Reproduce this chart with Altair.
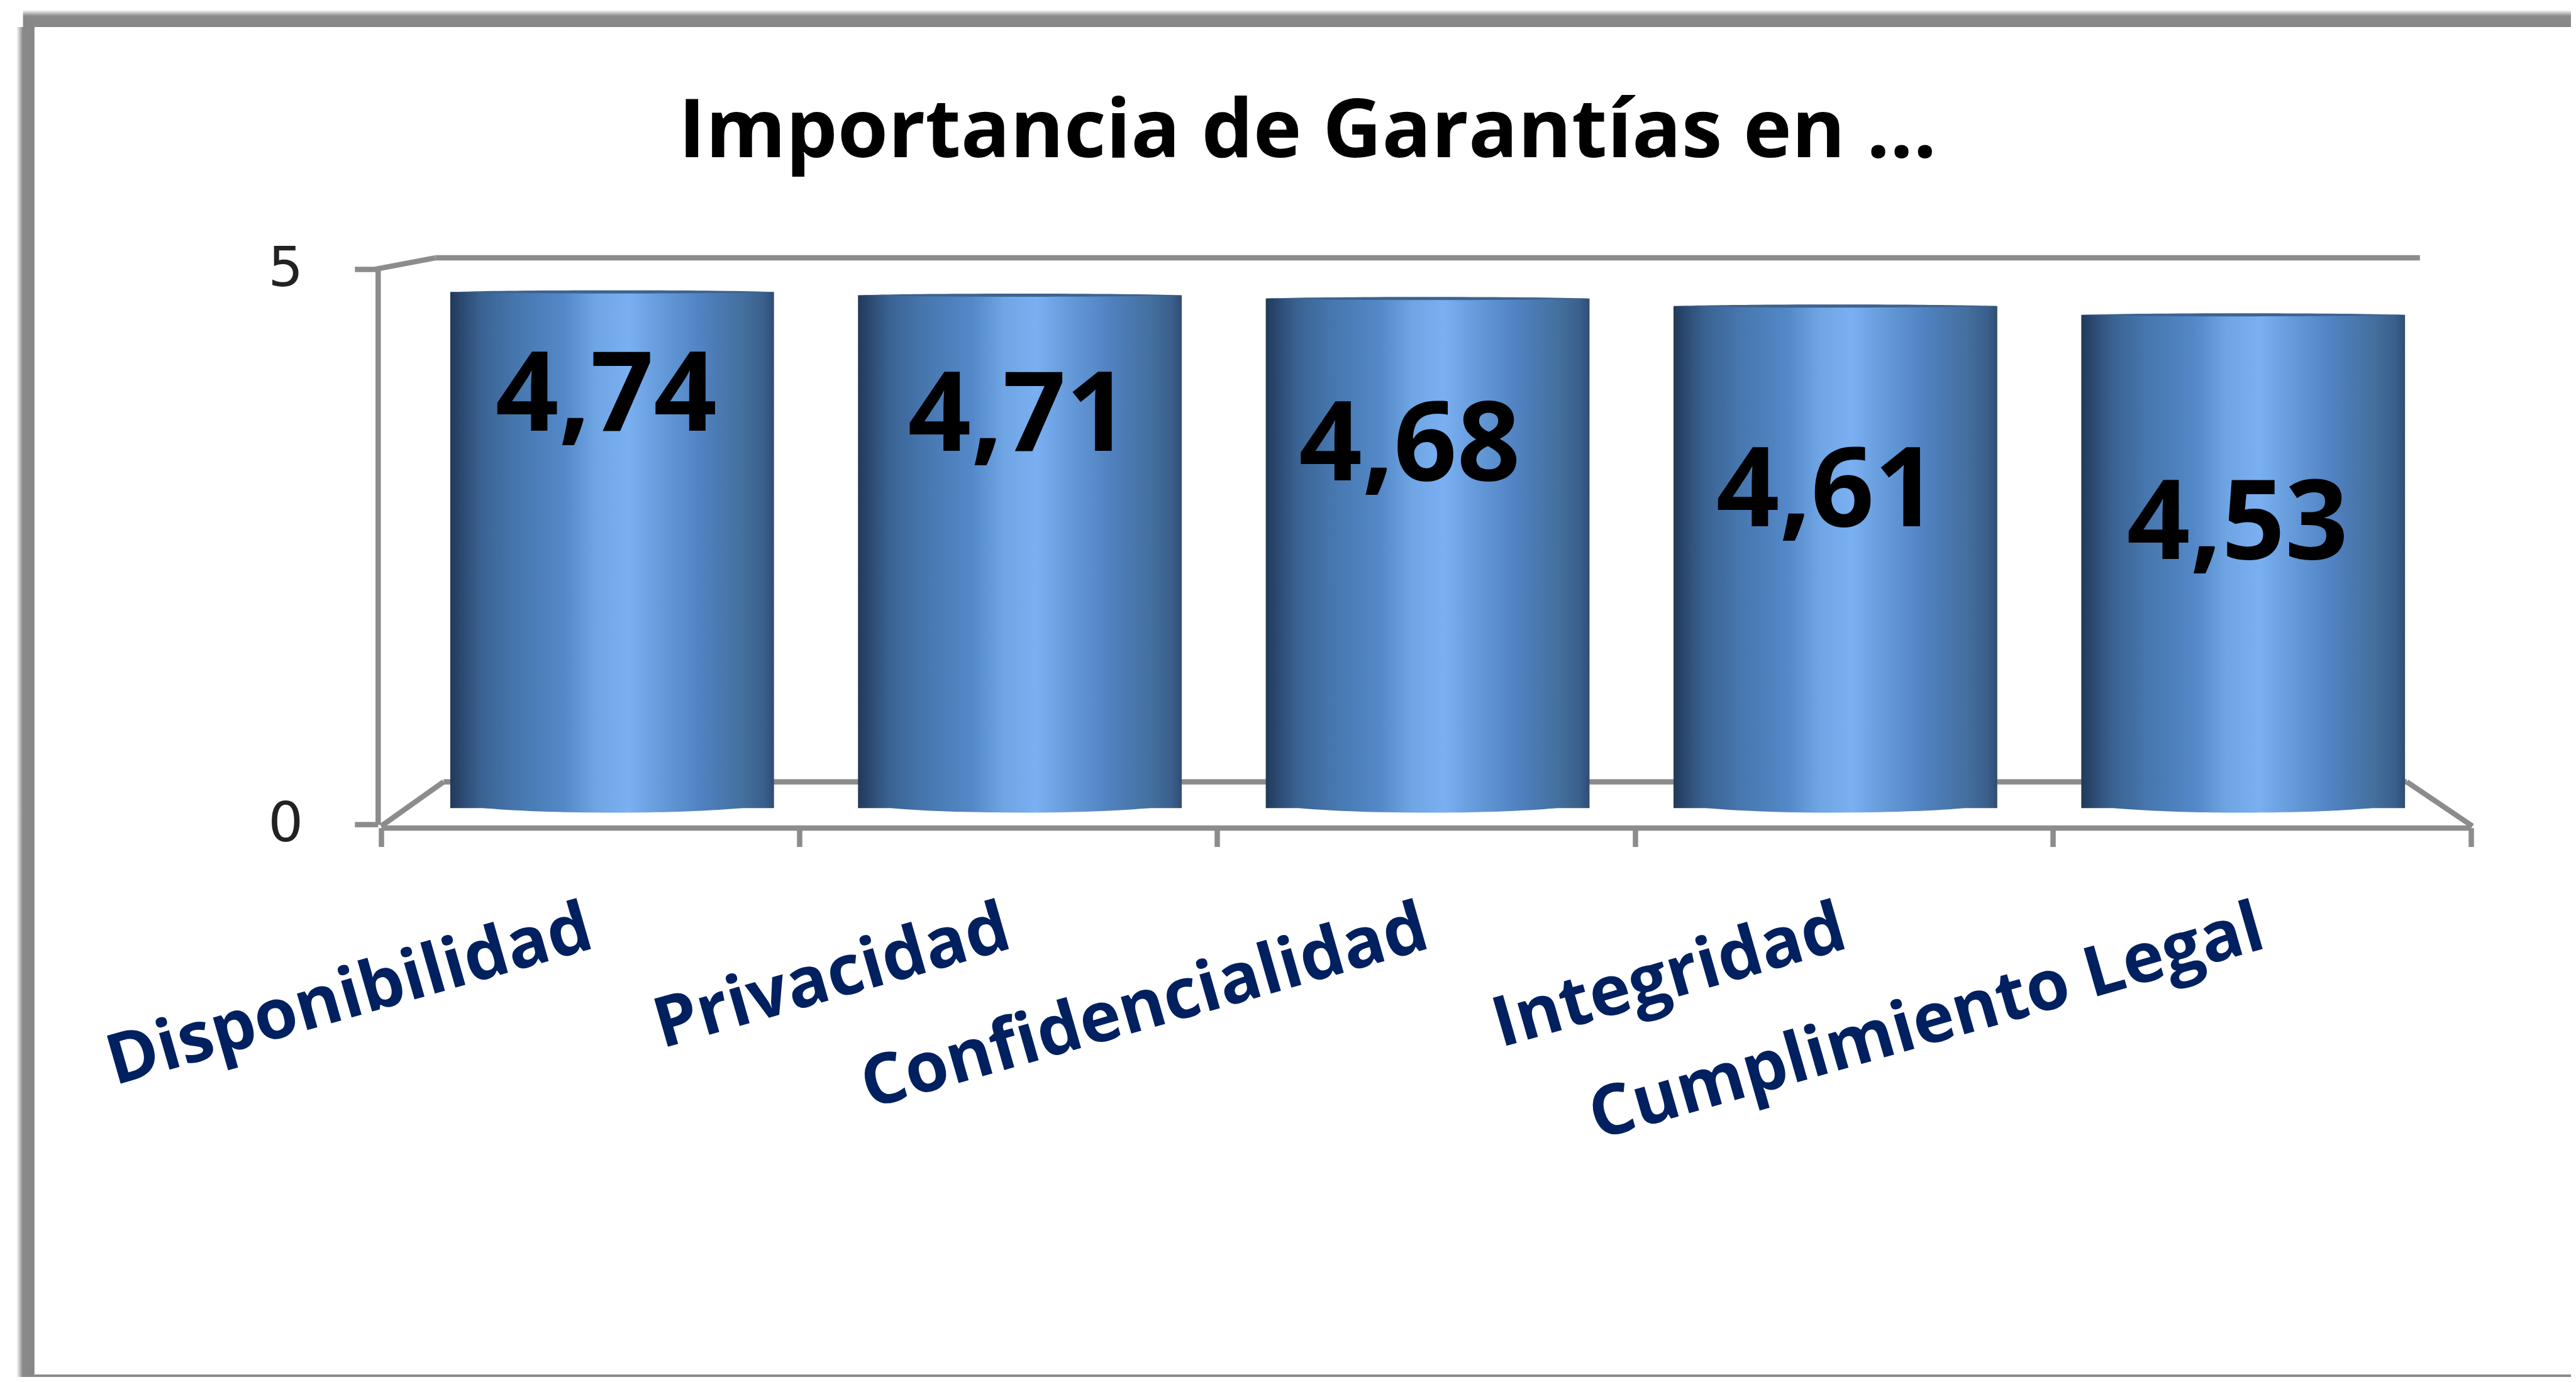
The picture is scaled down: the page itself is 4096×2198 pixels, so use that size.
import altair as alt
import pandas as pd

categories = ["Disponibilidad", "Privacidad", "Confidencialidad", "Integridad", "Cumplimiento Legal"]
values = [4.74, 4.71, 4.68, 4.61, 4.53]
labels = ["4,74", "4,71", "4,68", "4,61", "4,53"]
axis_ticks = [0, 5]

K = 4096 / 1568


def px(v):
    return v * K - 8


W, H = 4080, 2182
GRAY = "#8c8c8c"
LW = 8.5

df = pd.DataFrame({"cat": categories, "val": values, "lab": labels})
base = alt.Chart(df)

cyl = alt.LinearGradient(
    gradient="linear", x1=0, x2=1, y1=0, y2=0,
    stops=[
        alt.GradientStop(offset=0.0, color="#22395a"),
        alt.GradientStop(offset=0.05, color="#2f4f78"),
        alt.GradientStop(offset=0.1, color="#3a6393"),
        alt.GradientStop(offset=0.2, color="#4676ad"),
        alt.GradientStop(offset=0.35, color="#5388c8"),
        alt.GradientStop(offset=0.45, color="#6fa5e3"),
        alt.GradientStop(offset=0.55, color="#7ab0f2"),
        alt.GradientStop(offset=0.65, color="#659bda"),
        alt.GradientStop(offset=0.78, color="#5081c0"),
        alt.GradientStop(offset=0.9, color="#44709f"),
        alt.GradientStop(offset=0.97, color="#3a5f8c"),
        alt.GradientStop(offset=1.0, color="#2f4d73"),
    ],
)


def frame(x, x2, y, y2, horizontal):
    grad = alt.LinearGradient(
        gradient="linear",
        x1=0, y1=0, x2=0 if horizontal else 1, y2=1 if horizontal else 0,
        stops=[
            alt.GradientStop(offset=0.0, color="#ffffff"),
            alt.GradientStop(offset=0.35, color="#8a8a8a"),
            alt.GradientStop(offset=1.0, color="#878787"),
        ],
    )
    return alt.Chart(df.head(1)).mark_rect(color=grad).encode(
        x=alt.value(x), x2=alt.value(x2), y=alt.value(y), y2=alt.value(y2)
    )


def line(x0, y0, x1, y1, width=LW):
    return alt.Chart(df.head(1)).mark_rule(color=GRAY, strokeWidth=width).encode(
        x=alt.value(px(x0)), x2=alt.value(px(x1)), y=alt.value(px(y0)), y2=alt.value(px(y1))
    )


bottom_line = alt.Chart(df.head(1)).mark_rule(color=GRAY, strokeWidth=4).encode(
    x=alt.value(px(21)), x2=alt.value(W), y=alt.value(H - 2), y2=alt.value(H - 2)
)

decor = [
    frame(px(10), px(21), px(16.5), H, False),
    frame(px(14), W, px(6), px(16.5), True),
    bottom_line,
    line(228, 164, 265, 157),
    line(265, 157, 1473, 157),
    line(232, 503, 270, 476),
    line(270, 476, 1465, 476),
    line(1465, 476, 1505, 503),
]

axes = base.mark_point(opacity=0).encode(
    x=alt.X(
        "cat:N", title=None, sort=None,
        scale=alt.Scale(domain=categories, range=[px(232), px(1504)], paddingInner=0, paddingOuter=0, round=False),
        axis=alt.Axis(
            orient="bottom", offset=px(504) - H, tickBand="extent", labelAngle=344,
            labelAlign="right", labelBaseline="middle", labelFont="Open Sans", labelFontWeight="bold",
            labelFontSize=111, labelColor="#002060", labelPadding=128, labelOverlap=False, labelLimit=3000,
            domainColor=GRAY, domainWidth=LW, tickColor=GRAY, tickWidth=LW, tickSize=30, grid=False,
        ),
    ),
    y=alt.Y(
        "val:Q", title=None,
        scale=alt.Scale(domain=[0, 5], range=[px(502), px(164)], nice=False),
        axis=alt.Axis(
            orient="left", offset=-px(230), values=axis_ticks, labelFont="DejaVu Sans",
            labelFontSize=88, labelColor="#222222", labelPadding=82, grid=False,
            domainColor=GRAY, domainWidth=LW, tickColor=GRAY, tickWidth=LW, tickSize=37,
        ),
    ),
)

bar_x = alt.X(
    "cat:N", axis=None, sort=None,
    scale=alt.Scale(domain=categories, range=[px(248.5), px(1489.5)], paddingInner=0.206, paddingOuter=0.103, round=False),
)
bar_y = alt.Y(
    "val:Q", axis=None,
    scale=alt.Scale(domain=[0, 5], range=[px(492), px(160.5)], nice=False),
)
BAR_SIZE = (197 * K) ** 2

bars = base.mark_bar(fill=cyl, stroke=None, opacity=1).encode(x=bar_x, y=bar_y, y2=alt.value(px(490)))
bottoms = base.mark_point(
    filled=True, fill=cyl, opacity=1, strokeWidth=0, size=BAR_SIZE,
    shape="M-1,-0.01 C-0.7,0.068 0.7,0.068 1,-0.01 Z",
).encode(x=bar_x, y=alt.value(px(490)))
tops = base.mark_point(
    filled=True, fill="#3d638f", opacity=1, strokeWidth=0, size=BAR_SIZE,
    shape="M-1,0 C-0.6,-0.013 0.6,-0.013 1,0 C0.6,0.013 -0.6,0.013 -1,0 Z",
).encode(x=bar_x, y=bar_y)

text = base.mark_text(
    font="Open Sans", fontWeight="bold", fontSize=176, color="#000000", align="center", baseline="middle"
).encode(
    x=alt.X("val:Q", axis=None, scale=alt.Scale(
        domain=[4.53, 4.61, 4.68, 4.71, 4.74],
        range=[px(1362), px(1112), px(858), px(620), px(369)], nice=False, zero=False)),
    y=alt.Y("val:Q", axis=None, scale=alt.Scale(
        domain=[4.53, 4.61, 4.68, 4.71, 4.74],
        range=[px(320), px(300), px(272), px(254), px(242)], nice=False, zero=False)),
    text="lab:N",
)

chart = alt.layer(*decor, axes, bars, bottoms, tops, text).resolve_scale(
    x="independent", y="independent"
).resolve_axis(x="independent", y="independent").properties(
    width=W, height=H, padding=0,
    autosize=alt.AutoSizeParams(type="none"),
    title=alt.TitleParams(
        "Importancia de Garantías en ...", anchor="start", frame="group", dx=px(413),
        offset=-px(97) - 127, baseline="alphabetic", font="Open Sans", fontWeight="bold",
        fontSize=130, color="#000000",
    ),
).configure_view(stroke=None)

chart.save("out.html", embed_options={"renderer": "svg", "actions": False})
